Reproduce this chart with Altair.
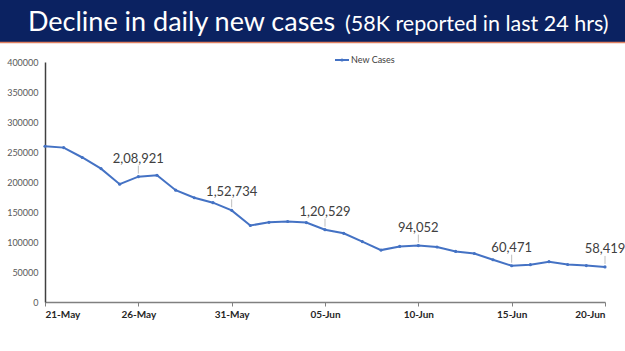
import json
import altair as alt
import pandas as pd

# ---- data ----
dates = ["21-May", "22-May", "23-May", "24-May", "25-May", "26-May", "27-May",
         "28-May", "29-May", "30-May", "31-May", "01-Jun", "02-Jun", "03-Jun",
         "04-Jun", "05-Jun", "06-Jun", "07-Jun", "08-Jun", "09-Jun", "10-Jun",
         "11-Jun", "12-Jun", "13-Jun", "14-Jun", "15-Jun", "16-Jun", "17-Jun",
         "18-Jun", "19-Jun", "20-Jun"]
new_cases = [259551, 257299, 240842, 222315, 196427, 208921, 211298,
             186364, 173790, 165553, 152734, 127510, 132788, 134154,
             132364, 120529, 114460, 100636, 86498, 92596, 94052,
             91702, 84332, 80834, 70421, 60471, 62224, 67208,
             62480, 60753, 58419]
tick_labels = ["21-May", "26-May", "31-May", "05-Jun", "10-Jun", "15-Jun", "20-Jun"]
annotated = ["26-May", "31-May", "05-Jun", "10-Jun", "15-Jun", "20-Jun"]
y_ticks = [0, 50000, 100000, 150000, 200000, 250000, 300000, 350000, 400000]
title_main = "Decline in daily new cases"
title_sub = "(58K reported in last 24 hrs)"
series_name = "New Cases"


def indian(n):
    s = str(n)
    if len(s) <= 3:
        return s
    head, tail = s[:-3], s[-3:]
    parts = []
    while len(head) > 2:
        parts.insert(0, head[-2:])
        head = head[:-2]
    if head:
        parts.insert(0, head)
    return ",".join(parts) + "," + tail


df = pd.DataFrame({"day": list(range(len(dates))), "date": dates, "cases": new_cases})
ann = df[df["date"].isin(annotated)].copy()
ann["label"] = ann["cases"].apply(indian)

tick_vals = [dates.index(t) for t in tick_labels]
label_expr = json.dumps(tick_labels) + "[indexof(" + json.dumps(tick_vals) + ", datum.value)]"

LINE = "#4472C4"
FONT = "Lato"

x = alt.X("day:Q",
          scale=alt.Scale(domain=[0, len(dates) - 1], nice=False, zero=False),
          axis=alt.Axis(values=tick_vals, labelExpr=label_expr, title=None, grid=False,
                        domainColor="#808080", domainWidth=1.5, tickColor="#808080",
                        tickSize=4, labelFont=FONT, labelFontSize=10,
                        labelFontWeight="bold", labelColor="#262626", labelPadding=3,
                        labelOverlap=False))
y = alt.Y("cases:Q",
          scale=alt.Scale(domain=[0, 400000], nice=False),
          axis=alt.Axis(values=y_ticks, format="d", title=None, grid=False, ticks=False,
                        domainColor="#404040", domainWidth=1.5, labelFont=FONT,
                        labelFontSize=9, labelColor="#595959", labelPadding=7,
                        labelOverlap=False))
y2 = alt.Y2("cases:Q")

base = alt.Chart(df)
line = base.mark_line(color=LINE, strokeWidth=2).encode(x=x, y=y)
pts = base.mark_point(color=LINE, filled=True, size=10, opacity=1).encode(x=x, y=y)

leaders = alt.Chart(ann).mark_rule(color="#bfbfbf", strokeWidth=1, yOffset=-3, y2Offset=-11).encode(
    x=x, y=y, y2=y2)
labels = alt.Chart(ann).mark_text(font=FONT, fontSize=13, color="#404040", dy=-18, dx=0,
                                  baseline="middle").encode(
    x=x, y=y, text="label:N")

one = alt.Data(values=[{"d": 0}])
banner = alt.Chart(one).mark_rect(color="#0B2261").encode(
    x=alt.value(-45), x2=alt.value(580), y=alt.value(-62), y2=alt.value(-20))
stripe = alt.Chart(one).mark_rule(color="#E08060", strokeWidth=1.5).encode(
    x=alt.value(-45), x2=alt.value(580), y=alt.value(-19.5))
t_main = alt.Chart(one).mark_text(text=title_main, font=FONT, fontSize=27, color="white",
                                  align="left", baseline="alphabetic").encode(
    x=alt.value(-17), y=alt.value(-31))
t_sub = alt.Chart(one).mark_text(text=title_sub, font=FONT, fontSize=21.5, color="white",
                                 align="left", baseline="alphabetic").encode(
    x=alt.value(300), y=alt.value(-31))

leg_line = alt.Chart(one).mark_rule(color=LINE, strokeWidth=2).encode(
    x=alt.value(290), x2=alt.value(304), y=alt.value(-2))
leg_pt = alt.Chart(one).mark_point(color=LINE, filled=True, size=10, opacity=1).encode(
    x=alt.value(297), y=alt.value(-2))
leg_txt = alt.Chart(one).mark_text(text=series_name, font=FONT, fontSize=9, color="#404040",
                                   align="left", baseline="middle").encode(
    x=alt.value(306), y=alt.value(-2))

chart = alt.layer(banner, stripe, t_main, t_sub, leg_line, leg_pt, leg_txt,
                  line, pts, leaders, labels).properties(
    width=560, height=240, autosize="none",
    padding={"left": 45, "top": 62, "right": 20, "bottom": 49},
    background="white",
).configure_view(stroke=None)

chart.save("out.html", embed_options={"renderer": "svg", "actions": False})
